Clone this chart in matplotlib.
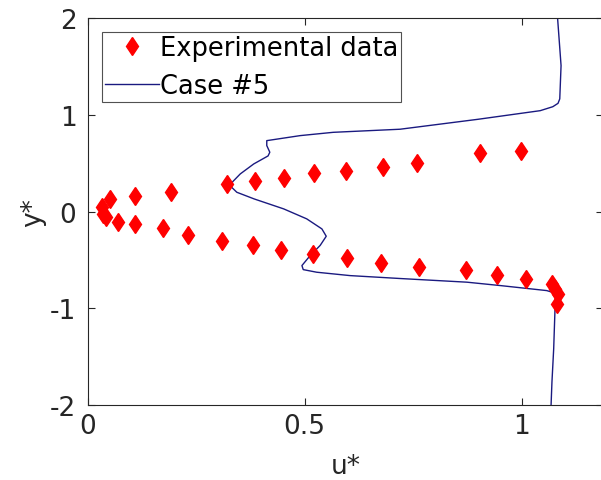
import numpy as np
import matplotlib
matplotlib.use("Agg")
import matplotlib.pyplot as plt

u_exp = [0.033, 0.052, 0.109, 0.192, 0.322, 0.386, 0.453, 0.522, 0.596, 0.680, 0.759, 0.905, 0.999,
         0.036, 0.043, 0.071, 0.109, 0.173, 0.232, 0.309, 0.382, 0.446, 0.520, 0.598, 0.677,
         0.763, 0.873, 0.943, 1.010, 1.070, 1.078, 1.085, 1.082]
y_exp = [0.045, 0.131, 0.165, 0.207, 0.286, 0.321, 0.348, 0.400, 0.424, 0.459, 0.504, 0.607, 0.625,
         -0.024, -0.058, -0.103, -0.127, -0.172, -0.241, -0.300, -0.344, -0.393, -0.437, -0.482, -0.531,
         -0.575, -0.603, -0.655, -0.696, -0.748, -0.800, -0.851, -0.954]

# simulation, case #5
u_sim = [1.083, 1.091, 1.088, 1.084, 1.072, 1.043, 0.900, 0.720, 0.566, 0.490, 0.413, 0.413, 0.420,
         0.416, 0.383, 0.352, 0.334, 0.332, 0.344, 0.384, 0.452, 0.505, 0.540, 0.550, 0.536, 0.513,
         0.494, 0.497, 0.528, 0.605, 0.720, 0.874, 0.951, 1.058, 1.075, 1.078, 1.074, 1.070, 1.068]
y_sim = [2.000, 1.510, 1.166, 1.120, 1.085, 1.044, 0.955, 0.852, 0.820, 0.786, 0.734, 0.683, 0.614,
         0.576, 0.493, 0.390, 0.307, 0.252, 0.200, 0.131, 0.028, -0.075, -0.179, -0.255, -0.350, -0.455,
         -0.558, -0.600, -0.627, -0.662, -0.692, -0.730, -0.765, -0.817, -0.840, -0.880, -1.420, -1.764, -2.000]

fig = plt.figure(figsize=(6.01, 4.81), dpi=100)
# axes box runs a few pixels past the right figure edge, like the original
ax = fig.add_axes([0.1456, 0.156, 0.858, 0.804])

ax.plot(u_exp, y_exp, 'd', color='red', markersize=9.5, markeredgewidth=1,
        label='Experimental data', zorder=3)
ax.plot(u_sim, y_sim, '-', color='#1a1a80', linewidth=1, label='Case #5', zorder=2)

ax.set_xlim(0, 1.188)
ax.set_ylim(-2, 2)
ax.set_xticks([0, 0.5, 1])
ax.set_xticklabels(['0', '0.5', '1'])
ax.set_yticks([-2, -1, 0, 1, 2])
ax.set_yticklabels(['-2', '-1', '0', '1', '2'])
ax.tick_params(direction='in', top=True, right=True, labelsize=19, colors='#262626', length=5)
ax.tick_params(axis='y', pad=8)
ax.tick_params(axis='x', pad=6)
for s in ax.spines.values():
    s.set_color('#262626')
    s.set_linewidth(0.8)
ax.spines['right'].set_visible(False)

ax.set_xlabel('u*', fontsize=19, color='#262626', labelpad=10)
ax.set_ylabel('y*', fontsize=19, color='#262626', labelpad=3)

leg = ax.legend(loc='upper left', fontsize=18.5, frameon=True, fancybox=False,
                handlelength=2.1, handletextpad=0.05, borderpad=0.12, labelspacing=0.45,
                borderaxespad=0.55)
leg.get_frame().set_edgecolor('#262626')
leg.get_frame().set_linewidth(0.8)

fig.savefig('out.png', dpi=100, facecolor='white')
